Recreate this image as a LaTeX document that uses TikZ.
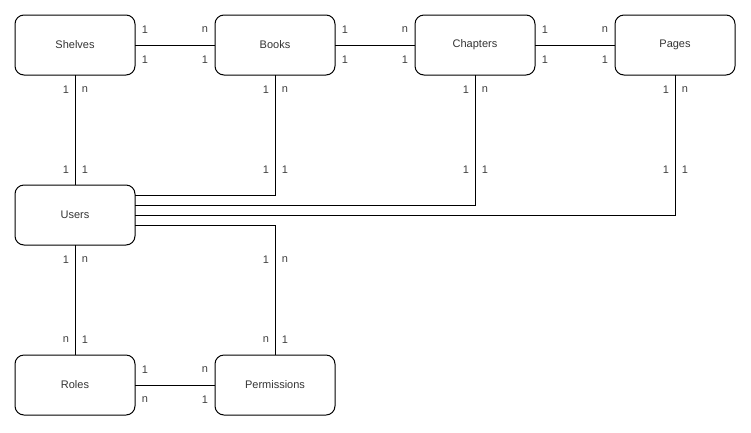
\documentclass[tikz,border=0pt]{standalone}
\usepackage{fontspec}
\setmainfont{Liberation Sans}
\usetikzlibrary{positioning,calc}

\begin{document}
\begin{tikzpicture}[x=1pt,y=-1pt,
  entity/.style={draw,rounded corners=9pt,minimum width=120pt,minimum height=60pt,
    outer sep=0pt,line width=1pt,font=\fontsize{11}{13}\selectfont,text=black!80},
  card/.style={font=\fontsize{11}{13}\selectfont,text=black!75,inner sep=1pt},
  rel/.style={line width=1pt}]
  \useasboundingbox (0,0) rectangle (751,432);
  % --- entities ---
  \node[entity] (shelves) at (75,45) {Shelves};
  \node[entity,right=80pt of shelves] (books) {Books};
  \node[entity,right=80pt of books] (chapters) {Chapters};
  \node[entity,right=80pt of chapters] (pages) {Pages};
  \node[entity,below=110pt of shelves] (users) {Users};
  \node[entity,below=110pt of users] (roles) {Roles};
  \node[entity,right=80pt of roles] (permissions) {Permissions};
  % --- relations ---
  \draw[rel] (shelves) -- (books);
  \draw[rel] (books) -- (chapters);
  \draw[rel] (chapters) -- (pages);
  \draw[rel] (shelves) -- (users);
  \draw[rel] (users) -- (roles);
  \draw[rel] (roles) -- (permissions);
  \coordinate (u1) at ($(users.north east)+(0,10)$);
  \coordinate (u2) at ($(users.north east)+(0,20)$);
  \coordinate (u3) at ($(users.north east)+(0,30)$);
  \coordinate (u4) at ($(users.north east)+(0,40)$);
  \draw[rel] (u1) -| (books);
  \draw[rel] (u2) -| (chapters);
  \draw[rel] (u3) -| (pages);
  \draw[rel] (u4) -| (permissions);
  % --- cardinalities ---
  \foreach \t/\x/\y in {1/145/30,1/145/60,n/205/30,1/205/60,
      1/345/30,1/345/60,n/405/30,1/405/60,
      1/545/30,1/545/60,n/605/30,1/605/60,
      1/66/90,n/85/90,1/66/170,1/85/170,
      1/266/90,n/285/90,1/266/170,1/285/170,
      1/466/90,n/485/90,1/466/170,1/485/170,
      1/666/90,n/685/90,1/666/170,1/685/170,
      1/66/260,n/85/260,n/66/340,1/85/340,
      1/266/260,n/285/260,n/266/340,1/285/340,
      1/145/370,n/145/400,n/205/370,1/205/400}
    \node[card] (c\x-\y) at (\x,\y) {\t};
\end{tikzpicture}
\end{document}
